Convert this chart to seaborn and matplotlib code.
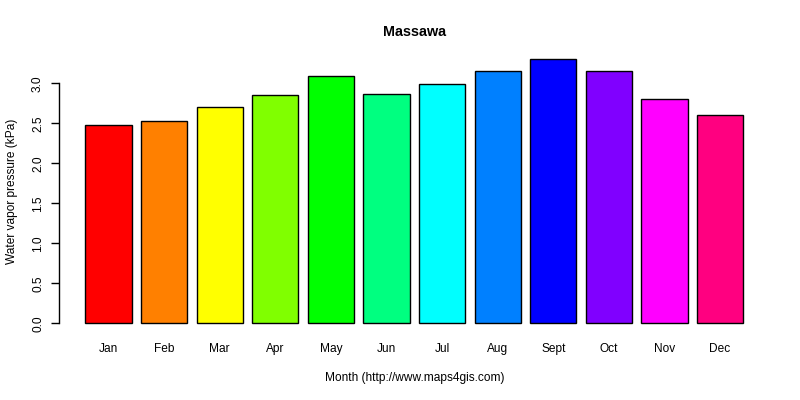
import pandas as pd
import matplotlib.pyplot as plt
import seaborn as sns

# Monthly mean water vapor pressure, Massawa (kPa)
months = ["Jan", "Feb", "Mar", "Apr", "May", "Jun",
          "Jul", "Aug", "Sept", "Oct", "Nov", "Dec"]
vapor = [2.475, 2.525, 2.70, 2.85, 3.09, 2.865,
         2.99, 3.16, 3.30, 3.16, 2.81, 2.60]
# R rainbow(12)
colors = ["#FF0000", "#FF8000", "#FFFF00", "#80FF00", "#00FF00", "#00FF80",
          "#00FFFF", "#0080FF", "#0000FF", "#8000FF", "#FF00FF", "#FF0080"]
yticks = [0.0, 0.5, 1.0, 1.5, 2.0, 2.5, 3.0]

df = pd.DataFrame({"Month": months, "Vapor": vapor})

sns.set_style("white")
plt.rcParams["font.family"] = ["Liberation Sans", "DejaVu Sans"]
plt.rcParams.update({"text.color": "black", "axes.labelcolor": "black",
                     "xtick.color": "black", "ytick.color": "black"})

fig = plt.figure(figsize=(8, 4), dpi=100)
ax = fig.add_axes([0.07375, 0.165, 0.88825, 0.713])

sns.barplot(data=df, x="Month", y="Vapor", hue="Month", palette=colors,
            order=months, legend=False, saturation=1, width=1 / 1.2,
            edgecolor="black", linewidth=1, ax=ax)

ax.set_xlim(-0.89, 11.89)
ax.set_ylim(-0.132, 3.432)

for side in ["top", "right", "bottom"]:
    ax.spines[side].set_visible(False)
ax.spines["left"].set_bounds(0, 3)
ax.spines["left"].set_linewidth(1)
ax.spines["left"].set_color("black")

ax.set_yticks(yticks)
ax.set_yticklabels([f"{t:.1f}" for t in yticks], rotation=90, va="center")
ax.tick_params(axis="y", length=5.8, width=1, color="black", pad=5,
               labelsize=8.6, left=True)
ax.tick_params(axis="x", length=0, pad=6.5, labelsize=8.6)

ax.set_title("Massawa", fontsize=10.4, fontweight="bold", pad=9)
ax.set_xlabel("Month (http://www.maps4gis.com)", fontsize=8.6)
ax.set_ylabel("Water vapor pressure (kPa)", fontsize=8.6)
ax.xaxis.set_label_coords(0.5, -0.133)
ax.yaxis.set_label_coords(-0.057, 0.5)

plt.savefig("out.png", dpi=100)
